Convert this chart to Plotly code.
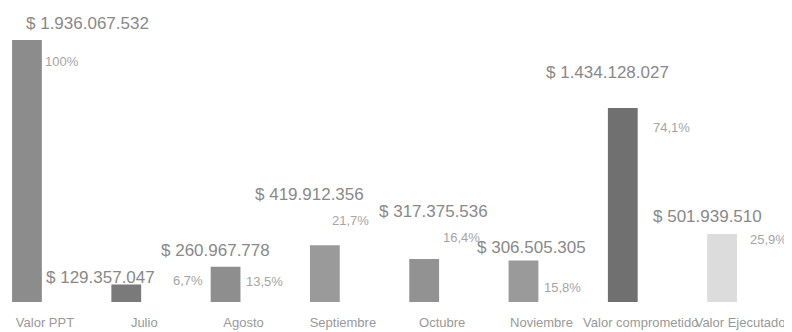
'''
    Presupuesto: valor PPT, ejecución mensual y valores comprometido / ejecutado.
'''
import plotly.graph_objects as go

CATEGORIES = [
    "Valor PPT", "Julio", "Agosto", "Septiembre", "Octubre",
    "Noviembre", "Valor comprometido", "Valor Ejecutado",
]
VALUES = [
    1936067532, 129357047, 260967778, 419912356,
    317375536, 306505305, 1434128027, 501939510,
]

BAR_COLORS = ["#8c8c8c", "#7a7a7a", "#8e8e8e", "#9a9a9a",
              "#929292", "#9a9a9a", "#707070", "#dcdcdc"]

# label offsets in px (value label, percent label), hand placed like the original
VALUE_SHIFT = [(61, 17), (-26, 7), (-10, 16), (-15, 51), (9, 48), (8, 13), (-15, 35), (-15, 18)]
PCT_SHIFT = [(35, -21), (62, 4), (39, -15), (26, 25), (37, 22), (39, -27), (49, -20), (46, -5)]

FONT = "Liberation Sans, Arial, sans-serif"

# the page body keeps its default 8px margin, so the figure is drawn 8px smaller
FIG_W, FIG_H = 784, 324


def money(v):
    return "$ " + f"{v:,}".replace(",", ".")


def pct(v, base):
    p = v / base * 100
    if round(p, 1) == 100:
        return "100%"
    return f"{p:.1f}%".replace(".", ",")


def generate_plot():
    base = VALUES[0]
    fig = go.Figure(go.Bar(
        x=CATEGORIES,
        y=VALUES,
        width=0.3,
        marker=dict(color=BAR_COLORS, line=dict(width=0)),
        hoverinfo="skip",
    ))

    for i, (cat, val) in enumerate(zip(CATEGORIES, VALUES)):
        fig.add_annotation(
            x=cat, y=val, text=money(val), showarrow=False,
            xshift=VALUE_SHIFT[i][0], yshift=VALUE_SHIFT[i][1],
            font=dict(family=FONT, size=17, color="#898989"),
        )
        fig.add_annotation(
            x=cat, y=val, text=pct(val, base), showarrow=False,
            xshift=PCT_SHIFT[i][0], yshift=PCT_SHIFT[i][1],
            font=dict(family=FONT, size=13, color="#a5a5a5"),
        )

    fig.update_xaxes(
        range=[-0.191, 7.704],
        showgrid=False, zeroline=False, showline=False, ticks="",
        tickangle=0, automargin=False,
        ticklabelshift=18, ticklabelstandoff=11,
        tickfont=dict(family=FONT, size=13, color="#999999"),
    )
    fig.update_yaxes(
        range=[0, base * 294 / 262],
        visible=False, showgrid=False, zeroline=False, automargin=False,
    )
    fig.update_layout(
        width=FIG_W, height=FIG_H,
        paper_bgcolor="#FFFFFF", plot_bgcolor="#FFFFFF",
        margin=dict(l=0, r=0, t=0, b=30),
        showlegend=False,
        font=dict(family=FONT, color="#888888"),
    )
    return fig


fig = generate_plot()
fig.write_html("out.html")
